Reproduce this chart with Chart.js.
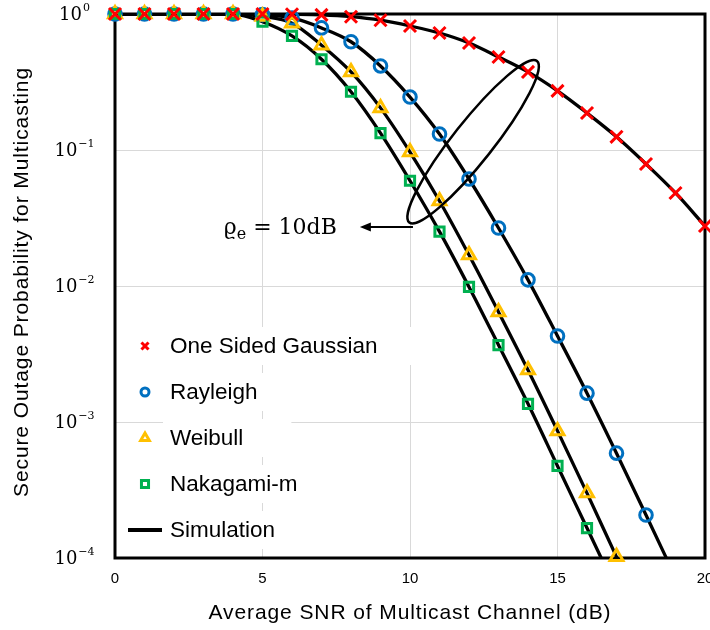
<!DOCTYPE html>
<html>
<head>
<meta charset="utf-8">
<script src="https://cdn.jsdelivr.net/npm/chart.js@4.4.0/dist/chart.umd.min.js"></script>
<style>
  html, body { margin: 0; padding: 0; background: #fff; }
  #chart { display: block; }
</style>
</head>
<body>
<canvas id="chart" width="710" height="630"></canvas>
<script>
// average SNR of the multicast channel (dB)
const snrDb = [0, 1, 2, 3, 4, 5, 6, 7, 8, 9, 10, 11, 12, 13, 14, 15, 16, 17, 18, 19, 20];

// analytical points
const gaussian = [1, 1, 1, 1, 1, 1, 0.995, 0.985, 0.955, 0.90, 0.816, 0.725, 0.612, 0.483, 0.375, 0.272, 0.187, 0.125, 0.0789, 0.0483, 0.0276];
const rayleigh = [1, 1, 1, 1, 1, 0.99, 0.935, 0.79, 0.625, 0.415, 0.245, 0.131, 0.0612, 0.0267, 0.0111, 0.00429, 0.00163, 0.00059, 0.000207];
const weibull = [1, 1, 1, 1, 1, 0.96, 0.855, 0.59, 0.375, 0.204, 0.0966, 0.0422, 0.0169, 0.00645, 0.00241, 0.00086, 0.0003, 0.000102];
const nakagami = [1, 1, 1, 1, 1, 0.878, 0.69, 0.465, 0.268, 0.133, 0.0594, 0.0251, 0.00984, 0.00368, 0.00136, 0.000475, 0.000166];

// where each simulation curve leaves the bottom of the plot
const rayleighTail = [19, 0.000072];
const weibullTail = [18, 0.000035];
const nakagamiTail = [17, 0.000058];

const xTicks = [0, 5, 10, 15, 20];
const yTickValues = [1e-4, 1e-3, 1e-2, 1e-1, 1];
const yTickExponents = ['\u22124', '\u22123', '\u22122', '\u22121', '0'];
const legendLabels = ['One Sided Gaussian', 'Rayleigh', 'Weibull', 'Nakagami-m', 'Simulation'];
const xTitle = 'Average SNR of Multicast Channel (dB)';
const yTitle = 'Secure Outage Probability for Multicasting';

// annotation: ellipse around the curves at this point, arrow to the label
const noteCenter = [12.14, 0.115];
const noteArrow = [10.1, 8.3, 0.0272];
const noteText = ['\u03F1', 'e', ' = 10dB'];

function toPoints(xs, ys) {
    return ys.map(function (y, i) { return { x: xs[i], y: y }; });
}

function simLine(ys, tail) {
    var pts = toPoints(snrDb, ys);
    if (tail) pts.push({ x: tail[0], y: tail[1] });
    return {
        data: pts,
        showLine: true,
        borderColor: '#000',
        borderWidth: 3.3,
        pointRadius: 0,
        cubicInterpolationMode: 'monotone',
        clip: 0,
        order: 10
    };
}

function markers(ys, style, color, radius, order) {
    return {
        data: toPoints(snrDb, ys),
        showLine: false,
        pointStyle: style,
        pointRadius: radius,
        pointBorderWidth: 3,
        pointBorderColor: color,
        pointBackgroundColor: 'rgba(0,0,0,0)',
        clip: false,
        order: order
    };
}

const RED = '#ff0000', BLUE = '#0070c0', YELLOW = '#ffc000', GREEN = '#00b050';

const decorations = {
    id: 'decorations',
    beforeDatasetsDraw: function (chart) {
        const a = chart.chartArea, c = chart.ctx;
        c.save();
        c.strokeStyle = '#000';
        c.lineWidth = 3;
        c.strokeRect(a.left, a.top, a.right - a.left, a.bottom - a.top);
        c.restore();
    },
    afterDraw: function (chart) {
        const c = chart.ctx;
        const a = chart.chartArea;
        const xs = chart.scales.x, ys = chart.scales.y;
        c.save();

        // axis titles (the original font runs wide, hence the spacing)
        c.fillStyle = '#000';
        c.font = '21px "Liberation Sans"';
        c.letterSpacing = '0.9px';
        c.textAlign = 'center';
        c.textBaseline = 'middle';
        c.fillText(xTitle, (a.left + a.right) / 2, 613);
        c.save();
        c.translate(22, 282);
        c.rotate(-Math.PI / 2);
        c.fillText(yTitle, 0, 0);
        c.restore();
        c.letterSpacing = '0px';

        // y tick labels as 10 with superscript
        yTickValues.forEach(function (v, i) {
            const py = ys.getPixelForValue(v);
            c.font = '18px "DejaVu Serif"';
            const wBase = c.measureText('10').width;
            c.font = '11px "DejaVu Serif"';
            const wExp = c.measureText(yTickExponents[i]).width;
            const left = 74 - (wBase + wExp) / 2;
            c.font = '18px "DejaVu Serif"';
            c.textAlign = 'left';
            c.fillText('10', left, py + 1);
            c.font = '11px "DejaVu Serif"';
            c.fillText(yTickExponents[i], left + wBase + 1, py - 6);
        });

        // legend
        const rows = [346, 392, 438, 484, 530];
        const styles = [
            { pointStyle: 'crossRot', radius: 5, color: RED },
            { pointStyle: 'circle', radius: 4, color: BLUE },
            { pointStyle: 'triangle', radius: 5, color: YELLOW },
            { pointStyle: 'rect', radius: 5, color: GREEN },
            null
        ];
        c.font = '22.5px "Liberation Sans"';
        legendLabels.forEach(function (label, i) {
            const y = rows[i];
            const w = c.measureText(label).width;
            c.fillStyle = '#fff';
            c.fillRect(163, y - 19, w + 55, 38);
            const s = styles[i];
            if (s) {
                c.strokeStyle = s.color;
                c.fillStyle = 'rgba(0,0,0,0)';
                c.lineWidth = 3;
                Chart.helpers.drawPoint(c, { pointStyle: s.pointStyle, radius: s.radius, rotation: 0, borderWidth: 3 }, 145, y);
            } else {
                c.strokeStyle = '#000';
                c.lineWidth = 4;
                c.beginPath();
                c.moveTo(128, y);
                c.lineTo(162, y);
                c.stroke();
            }
            c.fillStyle = '#000';
            c.textAlign = 'left';
            c.textBaseline = 'middle';
            c.fillText(label, 170, y + 1);
        });

        // ellipse
        const cx = xs.getPixelForValue(noteCenter[0]);
        const cy = ys.getPixelForValue(noteCenter[1]);
        c.strokeStyle = '#000';
        c.lineWidth = 2.5;
        c.beginPath();
        c.ellipse(cx, cy, 103, 20, -51.7 * Math.PI / 180, 0, Math.PI * 2);
        c.stroke();

        // arrow
        const ax0 = xs.getPixelForValue(noteArrow[0]);
        const ax1 = xs.getPixelForValue(noteArrow[1]);
        const ay = ys.getPixelForValue(noteArrow[2]);
        c.lineWidth = 2;
        c.beginPath();
        c.moveTo(ax0, ay);
        c.lineTo(ax1 + 8, ay);
        c.stroke();
        c.fillStyle = '#000';
        c.beginPath();
        c.moveTo(ax1, ay);
        c.lineTo(ax1 + 11, ay - 4.5);
        c.lineTo(ax1 + 11, ay + 4.5);
        c.closePath();
        c.fill();

        // label
        c.textBaseline = 'alphabetic';
        c.textAlign = 'left';
        c.font = '22px "DejaVu Serif"';
        const w0 = c.measureText(noteText[0]).width;
        const w2 = c.measureText(noteText[2]).width;
        c.font = '16px "DejaVu Serif"';
        const w1 = c.measureText(noteText[1]).width;
        const tx = ax1 - 23 - (w0 + w1 + w2);
        const base = ay + 7;
        c.font = '22px "DejaVu Serif"';
        c.fillText(noteText[0], tx, base);
        c.font = '16px "DejaVu Serif"';
        c.fillText(noteText[1], tx + w0, base + 5);
        c.font = '22px "DejaVu Serif"';
        c.fillText(noteText[2], tx + w0 + w1, base);

        c.restore();
    }
};

new Chart(document.getElementById('chart'), {
    type: 'scatter',
    data: {
        datasets: [
            markers(gaussian, 'crossRot', RED, 8.5, 0),
            markers(nakagami, 'rect', GREEN, 6.5, 1),
            markers(weibull, 'triangle', YELLOW, 7.5, 2),
            markers(rayleigh, 'circle', BLUE, 6.3, 3),
            simLine(gaussian, null),
            simLine(rayleigh, rayleighTail),
            simLine(weibull, weibullTail),
            simLine(nakagami, nakagamiTail)
        ]
    },
    options: {
        responsive: false,
        animation: false,
        events: [],
        layout: { autoPadding: false, padding: { top: 14, right: 5, left: 0, bottom: 0 } },
        plugins: {
            legend: { display: false },
            tooltip: { enabled: false }
        },
        scales: {
            x: {
                type: 'linear',
                min: 0,
                max: 20,
                afterBuildTicks: function (scale) {
                    scale.ticks = xTicks.map(function (v) { return { value: v }; });
                },
                afterFit: function (scale) {
                    scale.height = 72;
                    scale.paddingLeft = 0;
                    scale.paddingRight = 0;
                },
                grid: { color: '#d9d9d9', lineWidth: 1, drawTicks: false },
                border: { display: false },
                ticks: {
                    padding: 12,
                    color: '#000',
                    maxRotation: 0,
                    font: { family: 'Liberation Sans', size: 15 }
                }
            },
            y: {
                type: 'logarithmic',
                min: 1e-4,
                max: 1,
                afterBuildTicks: function (scale) {
                    scale.ticks = yTickValues.map(function (v) { return { value: v }; });
                },
                afterFit: function (scale) {
                    scale.width = 115;
                    scale.paddingTop = 0;
                    scale.paddingBottom = 0;
                },
                grid: { color: '#d9d9d9', lineWidth: 1, drawTicks: false },
                border: { display: false },
                ticks: { display: false }
            }
        }
    },
    plugins: [decorations]
});
</script>
</body>
</html>
